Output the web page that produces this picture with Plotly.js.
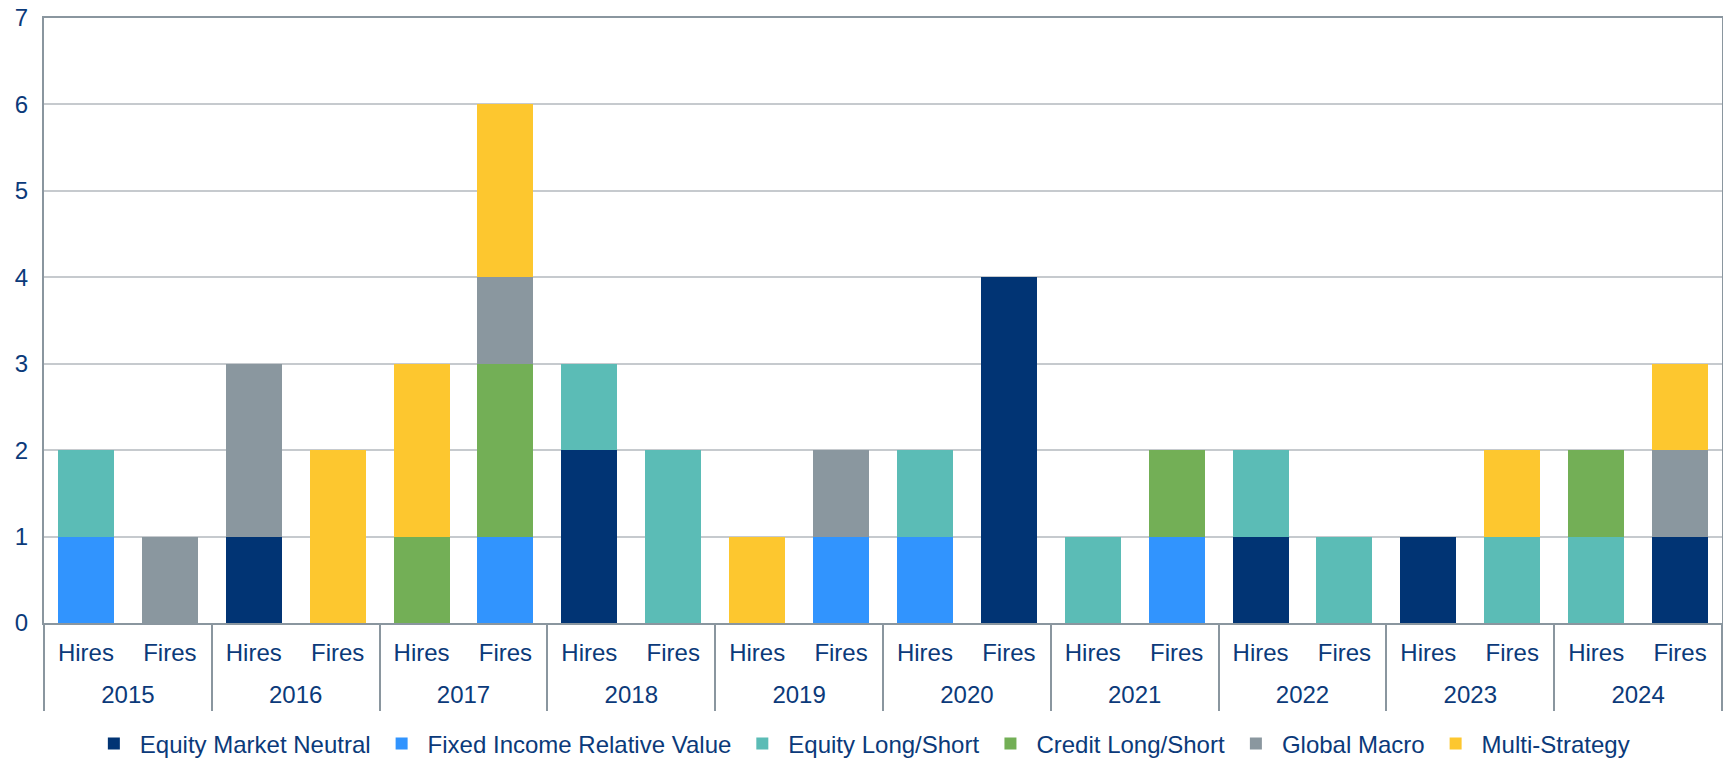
<!DOCTYPE html>
<html>
<head>
<meta charset="utf-8">
<script src="https://cdn.plot.ly/plotly-3.0.1.min.js"></script>
<style>html,body{margin:0;padding:0;background:#fff;}#chart{width:1723px;height:759px;}</style>
</head>
<body>
<div id="chart"></div>
<script>
const years = ['2015','2016','2017','2018','2019','2020','2021','2022','2023','2024'];
const kinds = ['Hires','Fires'];
const seriesNames = ['Equity Market Neutral','Fixed Income Relative Value','Equity Long/Short','Credit Long/Short','Global Macro','Multi-Strategy'];
const seriesColors = ['#013474','#3194FE','#5BBCB6','#73AF56','#8A979F','#FDC72F'];
// values ordered: 2015 Hires, 2015 Fires, 2016 Hires, 2016 Fires, ...
const equityMarketNeutral = [0,0, 1,0, 0,0, 2,0, 0,0, 0,4, 0,0, 1,0, 1,0, 0,1];
const fixedIncomeRelValue = [1,0, 0,0, 0,1, 0,0, 0,1, 1,0, 0,1, 0,0, 0,0, 0,0];
const equityLongShort     = [1,0, 0,0, 0,0, 1,2, 0,0, 1,0, 1,0, 1,1, 0,1, 1,0];
const creditLongShort     = [0,0, 0,0, 1,2, 0,0, 0,0, 0,0, 0,1, 0,0, 0,0, 1,0];
const globalMacro         = [0,1, 2,0, 0,1, 0,0, 0,1, 0,0, 0,0, 0,0, 0,0, 0,1];
const multiStrategy       = [0,0, 0,2, 2,2, 0,0, 1,0, 0,0, 0,0, 0,0, 0,1, 0,1];
const seriesValues = [equityMarketNeutral, fixedIncomeRelValue, equityLongShort, creditLongShort, globalMacro, multiStrategy];

// unique category keys (year + kind), shown only with the kind label
const catKeys = [], catText = [];
years.forEach(y => kinds.forEach(k => { catKeys.push(y + ' ' + k); catText.push(k); }));
const nCats = catKeys.length;
const perYear = kinds.length;
// year label positions (centre of each year's group) and group boundaries on the category index scale
const yearCentres = years.map((y, i) => i * perYear + (perYear - 1) / 2);
const yearBounds = [];
for (let i = 0; i <= years.length; i++) yearBounds.push(i * perYear - 0.5);

const textColor = '#0B3A7A';
const axisGrey = '#8A969F';
const fs = 24;

const traces = seriesNames.map((name, i) => ({
  type: 'bar',
  name: name,
  x: catKeys,
  y: seriesValues[i],
  marker: {color: seriesColors[i], line: {width: 0}},
  hoverinfo: 'y+name'
}));
// empty helper traces so the year-label axis and the divider axis are drawn
traces.push({type: 'scatter', x: [], y: [], xaxis: 'x2', yaxis: 'y', showlegend: false, hoverinfo: 'skip'});
traces.push({type: 'scatter', x: [], y: [], xaxis: 'x3', yaxis: 'y', showlegend: false, hoverinfo: 'skip'});

const xRange = [-0.5, nCats - 0.5];

const layout = {
  width: 1723, height: 759,
  margin: {l: 44, r: 1, t: 18, b: 136},
  barmode: 'stack',
  bargap: 0.333,
  paper_bgcolor: '#fff',
  plot_bgcolor: '#fff',
  font: {family: 'Liberation Sans, Arial, sans-serif', size: fs, color: textColor},
  showlegend: true,
  legend: {
    orientation: 'h', xref: 'paper', x: 0.4871, xanchor: 'center',
    yref: 'container', y: 0.0198, yanchor: 'middle',
    font: {size: fs, color: textColor}, itemclick: false, traceorder: 'normal',
    itemwidth: 42, bgcolor: 'rgba(0,0,0,0)'
  },
  xaxis: {
    type: 'category', range: xRange, automargin: false,
    tickmode: 'array', tickvals: catKeys, ticktext: catText,
    showline: true, linecolor: axisGrey, linewidth: 2, mirror: true,
    ticks: '', tickfont: {size: fs, color: textColor},
    ticklabelstandoff: 7,
    showgrid: false, zeroline: false
  },
  xaxis2: {
    overlaying: 'x', anchor: 'y', side: 'bottom', type: 'linear', range: xRange, automargin: false,
    tickmode: 'array', tickvals: yearCentres, ticktext: years,
    ticks: '', showline: false, showgrid: false, zeroline: false,
    tickfont: {size: fs, color: textColor},
    ticklabelstandoff: 55
  },
  xaxis3: {
    overlaying: 'x', anchor: 'y', side: 'bottom', type: 'linear', range: xRange, automargin: false,
    tickmode: 'array', tickvals: yearBounds, showticklabels: false,
    ticks: 'outside', ticklen: 87, tickwidth: 2, tickcolor: axisGrey,
    showline: false, showgrid: false, zeroline: false
  },
  yaxis: {
    range: [0, 7], dtick: 1, automargin: false,
    showline: true, linecolor: axisGrey, linewidth: 2, mirror: true,
    showgrid: true, gridcolor: '#C6CACE', gridwidth: 2,
    zeroline: false,
    tickfont: {size: fs, color: textColor},
    ticklabelstandoff: 9
  }
};

Plotly.newPlot('chart', traces, layout, {displayModeBar: false, staticPlot: true});
</script>
</body>
</html>
